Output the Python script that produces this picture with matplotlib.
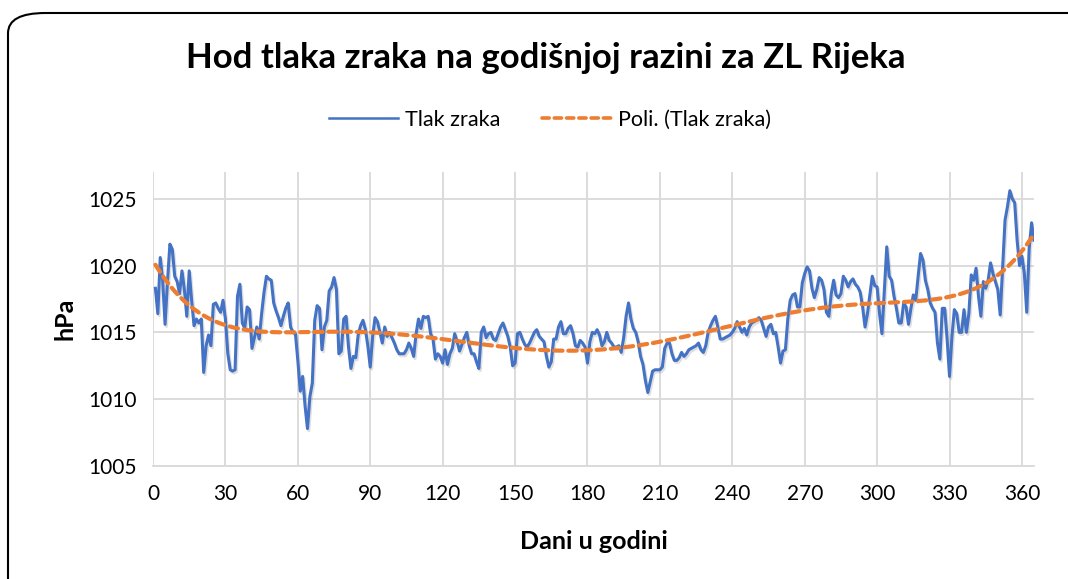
import numpy as np
import matplotlib
matplotlib.use("Agg")
import matplotlib.pyplot as plt
import matplotlib.patheffects as pe
from matplotlib.patches import FancyBboxPatch

# Dnevni tlak zraka (hPa), dani 1..365, ocitano s grafa
tlak = [
    1018.3, 1016.4, 1020.6, 1018.9, 1015.6, 1018.8, 1021.6, 1021.2, 1019.2, 1018.8,
    1017.9, 1019.6, 1018.2, 1016.2, 1019.6, 1017.4, 1015.5, 1016.0, 1015.7, 1016.0,
    1012.0, 1014.0, 1014.8, 1014.0, 1017.1, 1017.2, 1016.8, 1016.5, 1017.4, 1016.0,
    1013.4, 1012.2, 1012.1, 1012.2, 1017.7, 1018.6, 1015.7, 1015.3, 1016.9, 1016.7,
    1013.8, 1014.6, 1015.4, 1014.5, 1016.4, 1018.0, 1019.2, 1019.0, 1018.9, 1017.2,
    1016.6, 1016.1, 1015.5, 1016.2, 1016.8, 1017.2, 1015.4, 1015.0, 1014.9, 1012.9,
    1010.6, 1011.7, 1009.5, 1007.8, 1010.2, 1011.2, 1015.9, 1017.0, 1016.8, 1013.7,
    1015.4, 1015.9, 1018.1, 1018.4, 1019.1, 1018.2, 1013.4, 1013.6, 1016.0, 1016.2,
    1013.9, 1012.3, 1013.2, 1013.1, 1014.8, 1015.5, 1015.9, 1015.2, 1014.0, 1012.4,
    1014.7, 1016.1, 1015.8, 1015.0, 1014.2, 1015.4, 1014.7, 1015.0, 1014.6, 1014.2,
    1013.7, 1013.4, 1013.4, 1013.4, 1013.7, 1014.2, 1013.8, 1013.2, 1014.9, 1016.0,
    1015.3, 1016.2, 1016.1, 1016.2, 1014.9, 1014.5, 1013.0, 1013.4, 1013.2, 1012.7,
    1013.7, 1012.6, 1013.4, 1013.8, 1014.9, 1014.3, 1013.6, 1014.1, 1014.6, 1015.0,
    1014.0, 1013.4, 1013.4, 1012.8, 1012.3, 1015.0, 1015.4, 1014.6, 1014.9, 1015.0,
    1014.5, 1014.4, 1014.9, 1015.4, 1015.7, 1015.2, 1014.7, 1013.9, 1012.5, 1012.7,
    1014.9, 1015.0, 1014.5, 1014.1, 1013.9, 1014.2, 1014.6, 1015.0, 1015.2, 1014.7,
    1014.5, 1014.3, 1013.2, 1012.4, 1012.8, 1014.5, 1014.5, 1015.4, 1015.8, 1014.9,
    1014.9, 1015.3, 1015.5, 1014.9, 1014.0, 1013.9, 1014.4, 1014.2, 1013.9, 1012.7,
    1014.3, 1015.0, 1014.9, 1015.2, 1014.8, 1014.0, 1014.3, 1015.0, 1014.4, 1014.2,
    1013.9, 1013.9, 1014.0, 1013.5, 1014.6, 1016.2, 1017.2, 1016.0, 1015.3, 1015.0,
    1014.3, 1013.2, 1012.6, 1011.4, 1010.5, 1011.3, 1012.1, 1012.2, 1012.2, 1012.2,
    1012.4, 1013.8, 1014.2, 1014.2, 1013.4, 1012.9, 1012.9, 1013.1, 1013.5, 1013.2,
    1013.4, 1013.7, 1013.8, 1013.9, 1014.0, 1014.2, 1013.7, 1013.5, 1014.0, 1015.0,
    1015.5, 1015.9, 1016.2, 1015.4, 1014.5, 1014.5, 1014.6, 1014.7, 1014.8, 1015.0,
    1015.3, 1015.8, 1015.4, 1015.0, 1015.3, 1014.8, 1015.4, 1015.7, 1015.8, 1015.9,
    1016.1, 1015.9, 1015.3, 1014.7, 1015.4, 1015.6, 1014.9, 1015.0, 1013.9, 1012.7,
    1013.6, 1013.7, 1016.0, 1017.4, 1017.8, 1017.9, 1016.9, 1016.9, 1018.7, 1019.4,
    1019.9, 1019.6, 1018.3, 1017.6, 1018.2, 1019.1, 1018.9, 1018.2, 1016.5, 1016.2,
    1017.9, 1018.9, 1017.8, 1017.6, 1017.9, 1019.2, 1018.9, 1018.4, 1018.8, 1019.0,
    1018.6, 1018.4, 1018.0, 1016.9, 1015.4, 1016.4, 1017.8, 1019.2, 1018.5, 1018.4,
    1016.4, 1014.9, 1018.2, 1021.4, 1019.2, 1018.9, 1017.7, 1016.8, 1015.7, 1015.7,
    1017.2, 1016.9, 1015.6, 1016.8, 1017.8, 1017.4, 1019.2, 1020.9, 1020.4, 1018.9,
    1018.2, 1017.2, 1016.8, 1016.5, 1014.2, 1013.0, 1016.8, 1016.8, 1014.5, 1011.7,
    1014.7, 1016.7, 1016.4, 1015.0, 1015.0, 1016.7, 1015.0, 1016.4, 1019.3, 1018.9,
    1019.8, 1017.7, 1016.2, 1018.8, 1018.3, 1018.9, 1020.2, 1019.4, 1018.8, 1018.2,
    1016.3, 1019.9, 1023.4, 1024.4, 1025.6, 1025.0, 1024.7, 1021.9, 1020.0, 1020.7,
    1019.4, 1016.5, 1021.3, 1023.2, 1021.9,
]
dani = np.arange(1, len(tlak) + 1)

x_ticks = list(range(0, 361, 30))
y_ticks = [1005, 1010, 1015, 1020, 1025]

# polinomni trend (kao Excel "Poli." trendline)
koef = np.polyfit(dani, tlak, 6)
trend = np.polyval(koef, dani)

plt.rcParams['font.family'] = ['Lato', 'DejaVu Sans']

fig = plt.figure(figsize=(10.68, 5.79), dpi=100)
fig.patch.set_facecolor('white')

# okvir grafa sa zaobljenim kutom
okvir = FancyBboxPatch((8 / 1068, -0.1), 1.1, 1.1 - 13 / 579,
                       boxstyle="round,pad=0,rounding_size=0.035",
                       transform=fig.transFigure, facecolor='white',
                       edgecolor='black', linewidth=1.5, zorder=-5)
fig.patches.append(okvir)

ax = fig.add_axes([153 / 1068, 1 - 466 / 579, (1034 - 153) / 1068, (466 - 172) / 579])
ax.set_zorder(2)
ax.set_facecolor('none')

ax.plot(dani, tlak, color='#4472C4', linewidth=2.2, label='Tlak zraka', zorder=3,
        path_effects=[pe.SimpleLineShadow(offset=(1, -1.5), shadow_color='gray', alpha=0.25),
                      pe.Normal()])
ax.plot(dani, trend, color='#ED7D31', linewidth=3, linestyle=(0, (2.0, 1.4)),
        dash_capstyle='round', label='Poli. (Tlak zraka)', zorder=4)

ax.set_xlim(0, 365)
ax.set_ylim(1005, 1027)
ax.set_xticks(x_ticks)
ax.set_yticks(y_ticks)
ax.grid(True, color='#d9d9d9', linewidth=1.3)
ax.set_axisbelow(True)
for s in ['top', 'right', 'left']:
    ax.spines[s].set_visible(False)
ax.spines['bottom'].set_color('#d9d9d9')
ax.spines['bottom'].set_linewidth(1.3)
ax.tick_params(length=0, labelsize=15, colors='black', pad=13)
ax.tick_params(axis='y', pad=12)

ax.set_xlabel('Dani u godini', fontsize=18, fontweight='bold', labelpad=19)
ax.set_ylabel('hPa', fontsize=18, fontweight='bold', labelpad=8)

fig.text(0.511, 0.9, 'Hod tlaka zraka na godišnjoj razini za ZL Rijeka',
         ha='center', va='center', fontsize=25, fontweight='bold')

leg = fig.legend(loc='center', bbox_to_anchor=(0.515, 0.793), ncol=2, frameon=False,
                 fontsize=15.5, handlelength=3.2, columnspacing=1.9, handletextpad=0.35)
leg.get_lines()[0].set_linewidth(1.8)
leg.get_lines()[0].set_path_effects([])
leg.get_lines()[1].set_linewidth(2.6)

fig.savefig('out.png', dpi=100, facecolor='white')
